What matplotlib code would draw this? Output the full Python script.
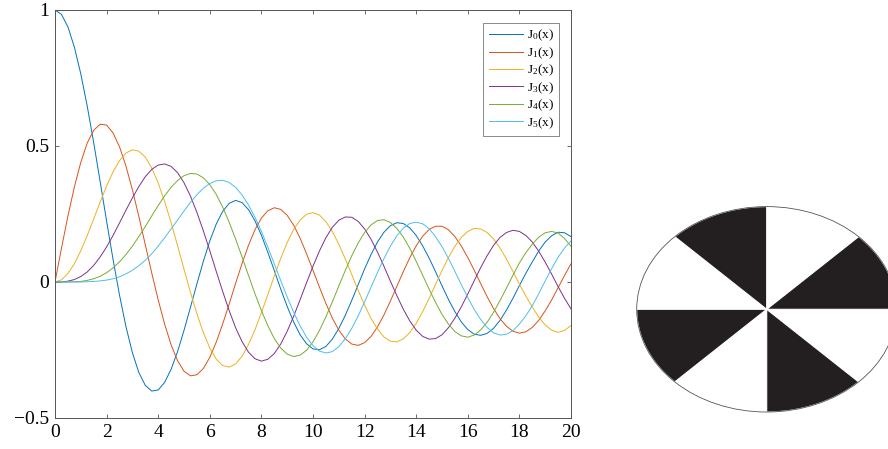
import numpy as np
import matplotlib.pyplot as plt
from matplotlib.patches import Polygon, Ellipse

plt.rcParams['font.family'] = ['Liberation Serif', 'DejaVu Serif']
plt.rcParams['mathtext.default'] = 'regular'

# sample points (step 0.25)
x = np.arange(0, 20.01, 0.25)

j0 = [1.000, 0.984, 0.938, 0.864, 0.765, 0.646, 0.512, 0.369, 0.224, 0.083,
      -0.048, -0.164, -0.260, -0.333, -0.380, -0.401, -0.397, -0.369, -0.321, -0.256,
      -0.178, -0.093, -0.007, 0.076, 0.151, 0.213, 0.260, 0.289, 0.300, 0.292,
      0.266, 0.225, 0.172, 0.109, 0.042, -0.026, -0.090, -0.147, -0.194, -0.227,
      -0.246, -0.249, -0.237, -0.210, -0.171, -0.123, -0.068, -0.010, 0.048, 0.101,
      0.147, 0.183, 0.207, 0.218, 0.215, 0.199, 0.171, 0.133, 0.088, 0.038,
      -0.014, -0.064, -0.109, -0.147, -0.175, -0.192, -0.196, -0.189, -0.170, -0.141,
      -0.103, -0.060, -0.013, 0.032, 0.074, 0.114, 0.147, 0.170, 0.183, 0.181,
      0.167]
j1 = [0.000, 0.124, 0.242, 0.349, 0.440, 0.511, 0.558, 0.580, 0.577, 0.548,
      0.497, 0.426, 0.339, 0.241, 0.137, 0.033, -0.066, -0.155, -0.231, -0.289,
      -0.328, -0.345, -0.341, -0.318, -0.277, -0.221, -0.154, -0.081, -0.005, 0.068,
      0.135, 0.192, 0.235, 0.262, 0.273, 0.267, 0.245, 0.209, 0.161, 0.104,
      0.043, -0.019, -0.079, -0.133, -0.177, -0.209, -0.228, -0.233, -0.223, -0.200,
      -0.165, -0.121, -0.070, -0.016, 0.038, 0.089, 0.133, 0.168, 0.193, 0.205,
      0.205, 0.192, 0.167, 0.132, 0.090, 0.043, -0.006, -0.054, -0.098, -0.135,
      -0.163, -0.181, -0.188, -0.183, -0.167, -0.141, -0.106, -0.066, -0.021, 0.024,
      0.067]
j2 = [0.000, 0.008, 0.031, 0.067, 0.115, 0.171, 0.232, 0.294, 0.353, 0.405,
      0.446, 0.474, 0.486, 0.481, 0.459, 0.419, 0.364, 0.296, 0.218, 0.134,
      0.047, -0.038, -0.117, -0.186, -0.243, -0.284, -0.307, -0.313, -0.301, -0.273,
      -0.230, -0.176, -0.113, -0.046, 0.022, 0.087, 0.145, 0.193, 0.228, 0.249,
      0.255, 0.246, 0.222, 0.186, 0.139, 0.085, 0.028, -0.030, -0.085, -0.134,
      -0.173, -0.202, -0.218, -0.220, -0.209, -0.186, -0.152, -0.109, -0.061, -0.009,
      0.042, 0.090, 0.131, 0.164, 0.186, 0.197, 0.195, 0.182, 0.158, 0.125,
      0.084, 0.039, -0.008, -0.052, -0.092, -0.129, -0.158, -0.177, -0.185, -0.178,
      -0.160]
j3 = [0.000, 0.000, 0.003, 0.009, 0.020, 0.037, 0.061, 0.092, 0.129, 0.171,
      0.217, 0.264, 0.309, 0.351, 0.387, 0.414, 0.430, 0.434, 0.425, 0.402,
      0.365, 0.316, 0.256, 0.188, 0.115, 0.039, -0.035, -0.105, -0.168, -0.219,
      -0.258, -0.282, -0.291, -0.284, -0.263, -0.228, -0.181, -0.126, -0.065, -0.003,
      0.058, 0.114, 0.163, 0.201, 0.227, 0.239, 0.238, 0.223, 0.195, 0.157,
      0.110, 0.058, 0.003, -0.050, -0.100, -0.143, -0.177, -0.200, -0.210, -0.208,
      -0.194, -0.168, -0.133, -0.091, -0.044, 0.005, 0.053, 0.097, 0.135, 0.164,
      0.182, 0.190, 0.186, 0.171, 0.147, 0.113, 0.073, 0.029, -0.017, -0.060,
      -0.099]
j4 = [0.000, 0.000, 0.000, 0.001, 0.002, 0.006, 0.012, 0.021, 0.034, 0.052,
      0.074, 0.101, 0.132, 0.167, 0.204, 0.243, 0.281, 0.317, 0.348, 0.373,
      0.391, 0.399, 0.397, 0.383, 0.358, 0.322, 0.275, 0.220, 0.158, 0.092,
      0.024, -0.043, -0.105, -0.161, -0.208, -0.243, -0.265, -0.274, -0.269, -0.251,
      -0.220, -0.178, -0.128, -0.073, -0.015, 0.042, 0.096, 0.143, 0.182, 0.210,
      0.226, 0.229, 0.219, 0.197, 0.165, 0.124, 0.076, 0.025, -0.026, -0.075,
      -0.119, -0.155, -0.182, -0.198, -0.203, -0.195, -0.176, -0.148, -0.111, -0.068,
      -0.022, 0.025, 0.070, 0.108, 0.139, 0.165, 0.181, 0.186, 0.180, 0.160,
      0.131]
j5 = [0.000, 0.000, 0.000, 0.000, 0.000, 0.001, 0.002, 0.004, 0.007, 0.012,
      0.019, 0.030, 0.043, 0.060, 0.080, 0.104, 0.132, 0.163, 0.195, 0.228,
      0.261, 0.293, 0.321, 0.345, 0.362, 0.372, 0.374, 0.366, 0.348, 0.320,
      0.283, 0.238, 0.186, 0.128, 0.067, 0.005, -0.055, -0.111, -0.161, -0.203,
      -0.234, -0.254, -0.261, -0.256, -0.238, -0.209, -0.171, -0.125, -0.073, -0.019,
      0.035, 0.086, 0.132, 0.170, 0.198, 0.215, 0.220, 0.214, 0.196, 0.167,
      0.130, 0.087, 0.039, -0.010, -0.057, -0.101, -0.138, -0.167, -0.187, -0.195,
      -0.192, -0.179, -0.155, -0.124, -0.087, -0.043, 0.004, 0.049, 0.091, 0.125,
      0.151]

series = [j0, j1, j2, j3, j4, j5]
labels = ['J$_0$(x)', 'J$_1$(x)', 'J$_2$(x)', 'J$_3$(x)', 'J$_4$(x)', 'J$_5$(x)']
colors = ['#0072BD', '#D95319', '#EDB120', '#7E2F8E', '#77AC30', '#4DBEEE']

fig = plt.figure(figsize=(8.88, 4.49), dpi=100)

# left: the Bessel plot
ax = fig.add_axes([55/888, 31/449, 516/888, 408/449])
for y, lab, c in zip(series, labels, colors):
    ax.plot(x, y, color=c, lw=0.7, label=lab)
ax.set_xlim(0, 20)
ax.set_ylim(-0.5, 1)
ax.set_xticks(np.arange(0, 21, 2))
ax.set_yticks([-0.5, 0, 0.5, 1])
ax.set_yticklabels(['\u22120.5', '0', '0.5', '1'])
ax.tick_params(direction='in', length=3, width=0.6, color='#555555',
               labelsize=14, top=True, right=True, pad=4)
for s in ax.spines.values():
    s.set_color('#555555')
    s.set_linewidth(0.7)
leg = ax.legend(loc='upper right', fontsize=9.5, handlelength=2.6,
                labelspacing=0.15, borderpad=0.4, handletextpad=0.3,
                fancybox=False, framealpha=1, bbox_to_anchor=(0.99, 0.985))
leg.get_frame().set_edgecolor('#777777')
leg.get_frame().set_linewidth(0.6)

# right: ellipse split in eight sectors
ax2 = fig.add_axes([636/888, 0, 252/888, 449/449])
ax2.set_xlim(0, 252)
ax2.set_ylim(449, 0)
ax2.axis('off')
cx, cy, a, b = 130.7, 309.3, 130.0, 102.7
sector_starts = [0, 90, 180, 270]
for s in sector_starts:
    t = np.radians(np.linspace(s, s + 45, 40))
    px = np.concatenate([[cx], cx + a * np.cos(t)])
    py = np.concatenate([[cy], cy - b * np.sin(t)])
    ax2.add_patch(Polygon(np.column_stack([px, py]), closed=True,
                          facecolor='#231F20', edgecolor='white', lw=0.8))
ax2.add_patch(Ellipse((cx, cy), 2 * a, 2 * b, fill=False,
                      edgecolor='#555555', lw=0.6))

fig.savefig('out.png', dpi=100)
